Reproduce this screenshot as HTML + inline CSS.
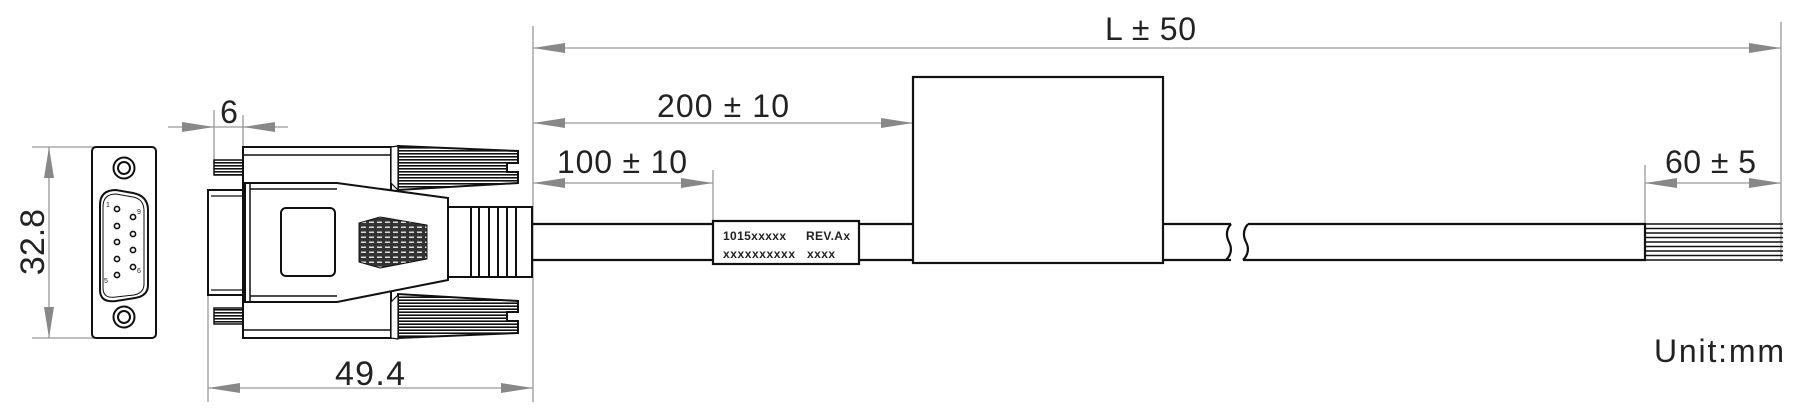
<!DOCTYPE html>
<html><head><meta charset="utf-8"><style>
html,body{margin:0;padding:0;background:#fff;}
svg{display:block;}
text{font-family:"Liberation Sans Narrow","Liberation Sans",sans-serif;fill:#222;}
</style></head><body>
<svg width="1809" height="411" viewBox="0 0 1809 411" xmlns="http://www.w3.org/2000/svg">
<defs>
<pattern id="hs" width="4" height="3" patternUnits="userSpaceOnUse">
<rect width="4" height="3" fill="#fff"/><rect width="4" height="1.6" fill="#111"/>
</pattern>
<pattern id="brick" width="8" height="5" patternUnits="userSpaceOnUse">
<rect width="8" height="5" fill="#333"/><rect x="1" y="1.5" width="5" height="1.5" fill="#ddd"/>
</pattern>
<g id="ts">
<polygon points="398,146 518,151 518,163 507,163 507,172 518,172 518,183 398,190" fill="url(#hs)" stroke="#111" stroke-width="2"/>
</g>
</defs>

<!-- dimension lines (gray) -->
<g stroke="#999" stroke-width="1.3" fill="none">
<!-- 32.8 -->
<line x1="32" y1="147" x2="95" y2="147"/><line x1="32" y1="338" x2="95" y2="338"/>
<line x1="49" y1="147" x2="49" y2="338"/>
<!-- 6 -->
<line x1="214" y1="110" x2="214" y2="165"/><line x1="243" y1="115" x2="243" y2="150"/>
<line x1="168" y1="127" x2="288" y2="127"/>
<!-- 49.4 -->
<line x1="208" y1="190" x2="208" y2="402"/><line x1="533" y1="26" x2="533" y2="402"/>
<line x1="208" y1="388" x2="533" y2="388"/>
<!-- L -->
<line x1="533" y1="48" x2="1781" y2="48"/><line x1="1781" y1="22" x2="1781" y2="262"/>
<!-- 200 -->
<line x1="533" y1="123" x2="913" y2="123"/>
<!-- 100 -->
<line x1="533" y1="183" x2="713" y2="183"/><line x1="713" y1="170" x2="713" y2="222"/>
<!-- 60 -->
<line x1="1645" y1="183" x2="1781" y2="183"/><line x1="1645" y1="165" x2="1645" y2="224"/>
</g>
<g fill="#888">
<polygon points="49,147 44,178 54,178"/><polygon points="49,338 44,307 54,307"/>
<polygon points="214,127 182,122 182,132"/><polygon points="243,127 275,122 275,132"/>
<polygon points="208,388 240,383 240,393"/><polygon points="533,388 501,383 501,393"/>
<polygon points="533,48 565,43 565,53"/><polygon points="1781,48 1749,43 1749,53"/>
<polygon points="533,123 565,118 565,128"/><polygon points="913,123 881,118 881,128"/>
<polygon points="533,183 565,178 565,188"/><polygon points="713,183 681,178 681,188"/>
<polygon points="1645,183 1677,178 1677,188"/><polygon points="1781,183 1749,178 1749,188"/>
</g>

<!-- labels -->
<text x="229" y="123" font-size="32" text-anchor="middle">6</text>
<text transform="translate(44,242) rotate(-90)" font-size="34" text-anchor="middle">32.8</text>
<text x="370" y="385" font-size="34" text-anchor="middle" textLength="70">49.4</text>
<text x="1105" y="40" font-size="32" textLength="91">L ± 50</text>
<text x="657" y="117" font-size="32" textLength="132">200 ± 10</text>
<text x="557" y="173" font-size="32" textLength="130">100 ± 10</text>
<text x="1665" y="173" font-size="32" textLength="91">60 ± 5</text>
<text x="1654" y="362" font-size="32" textLength="130">Unit:mm</text>

<!-- front view -->
<g stroke="#111" stroke-width="2" fill="none">
<rect x="92" y="147" width="64" height="191" rx="4"/>
<circle cx="124" cy="168" r="10.5"/><circle cx="124" cy="168" r="6"/>
<circle cx="124" cy="317" r="10.5"/><circle cx="124" cy="317" r="6"/>
<path d="M100,205 Q100,190 116,190 L133,193 Q148,196 148,210 L148,285 Q148,296 135,298 L116,301 Q100,303 100,290 Z"/>
<path d="M103,207 Q103,194 116,194 L133,197 Q144,199 144,211 L144,284 Q144,293 134,295 L116,297 Q103,299 103,288 Z" stroke-width="1"/>
</g>
<g stroke="#111" stroke-width="1.6" fill="none">
<circle cx="117" cy="209" r="2.6"/><circle cx="117" cy="226" r="2.6"/><circle cx="117" cy="242" r="2.6"/><circle cx="117" cy="259" r="2.6"/><circle cx="117" cy="275" r="2.6"/>
<circle cx="133" cy="217" r="2.6"/><circle cx="133" cy="234" r="2.6"/><circle cx="133" cy="250" r="2.6"/><circle cx="133" cy="267" r="2.6"/>
</g>
<text x="106" y="207" font-size="7" fill="#335">1</text>
<text x="137" y="214" font-size="7" fill="#335">9</text>
<text x="137" y="273" font-size="7" fill="#335">6</text>
<text x="104" y="283" font-size="7" fill="#335">5</text>

<!-- side connector -->
<rect x="214" y="160" width="29" height="15" fill="url(#hs)" stroke="#111" stroke-width="1.5"/>
<rect x="214" y="308" width="29" height="16" fill="url(#hs)" stroke="#111" stroke-width="1.5"/>
<g stroke="#111" stroke-width="2" fill="#fff">
<rect x="208" y="190" width="35" height="105"/>
<line x1="211" y1="196" x2="243" y2="196" stroke-width="1.2"/><line x1="211" y1="290" x2="243" y2="290" stroke-width="1.2"/>
<rect x="243" y="147" width="148" height="191"/>
<line x1="243" y1="155" x2="391" y2="155" stroke-width="1.5"/><line x1="243" y1="330" x2="391" y2="330" stroke-width="1.5"/>
<polygon points="245,183 337,183 448,198 448,280 337,302 245,302"/>
<line x1="250" y1="183" x2="250" y2="302" stroke-width="1.5"/>
<line x1="250" y1="189" x2="337" y2="189" stroke-width="1.5"/><line x1="250" y1="296" x2="337" y2="296" stroke-width="1.5"/>
<rect x="281" y="208" width="54" height="68" rx="5"/>
<rect x="448" y="207" width="84" height="70"/>
</g>
<polygon points="359,223 380,217 427,225 427,259 380,268 359,262" fill="url(#brick)" stroke="#111" stroke-width="1"/>
<g stroke="#111" stroke-width="2">
<line x1="471" y1="207" x2="471" y2="277"/><line x1="479" y1="207" x2="479" y2="277"/>
<line x1="489" y1="207" x2="489" y2="277"/><line x1="498" y1="207" x2="498" y2="277"/>
<line x1="507" y1="207" x2="507" y2="277"/><line x1="516" y1="207" x2="516" y2="277"/>
</g>
<use href="#ts"/>
<g transform="translate(0,484) scale(1,-1)"><use href="#ts"/></g>
<polygon points="391,147 398,146 398,190 391,183" fill="#fff" stroke="#111" stroke-width="1.2"/>
<polygon points="391,338 398,339 398,295 391,302" fill="#fff" stroke="#111" stroke-width="1.2"/>

<!-- cable -->
<g stroke="#111" stroke-width="2.2" fill="#fff">
<path d="M532,224 L1231,224 M532,260 L1231,260"/>
<rect x="713" y="221" width="146" height="43"/>
<rect x="913" y="77" width="250" height="186"/>
<path d="M1231,224 Q1224,232 1229,242 Q1234,252 1226,260" fill="none"/>
<path d="M1248,224 Q1241,232 1246,242 Q1251,252 1243,260" fill="none"/>
<path d="M1248,224 L1645,224 L1645,260 L1243,260" fill="none"/>
</g>
<g stroke="#111" stroke-width="1.6">
<line x1="1645" y1="224" x2="1783" y2="224"/><line x1="1645" y1="228.5" x2="1783" y2="228.5"/>
<line x1="1645" y1="233" x2="1783" y2="233"/><line x1="1645" y1="237.5" x2="1783" y2="237.5"/>
<line x1="1645" y1="242" x2="1783" y2="242"/><line x1="1645" y1="246.5" x2="1783" y2="246.5"/>
<line x1="1645" y1="251" x2="1783" y2="251"/><line x1="1645" y1="255.5" x2="1783" y2="255.5"/>
<line x1="1645" y1="260" x2="1783" y2="260"/>
</g>
<g font-weight="bold" font-size="12">
<text x="723" y="240" textLength="63">1015xxxxx</text>
<text x="806" y="240" textLength="44">REV.Ax</text>
<text x="723" y="258" textLength="72">xxxxxxxxxx</text>
<text x="807" y="258" textLength="28">xxxx</text>
</g>
</svg>
</body></html>
